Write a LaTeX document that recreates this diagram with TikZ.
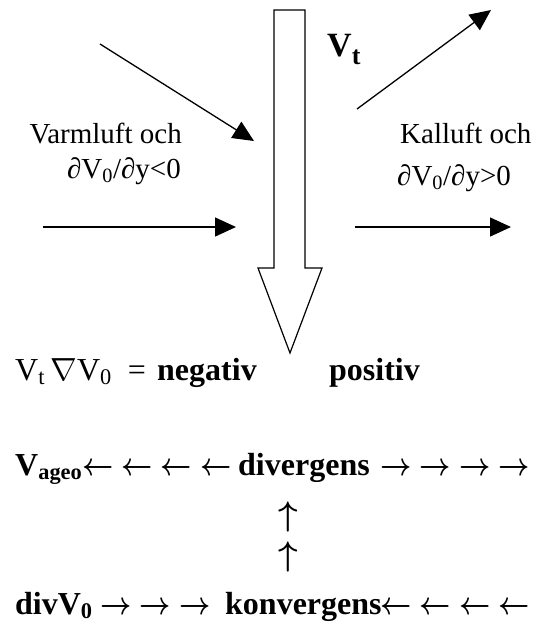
\RequirePackage{fix-cm}
\documentclass[tikz,border=0pt]{standalone}
\usepackage{fontspec}
\setmainfont{Liberation Serif}
\usetikzlibrary{arrows.meta,positioning}

\newcommand{\lar}{\scalebox{0.85}[1]{$\leftarrow$}}
\newcommand{\rar}{\scalebox{0.85}[1]{$\rightarrow$}}
\newcommand{\uar}{{\fontsize{34}{34}\selectfont$\uparrow$}}

\tikzset{
  flowarrow/.style={-{Triangle[length=21pt,width=19pt]}, line width=1.3pt},
  bigshaft/.style={draw, line width=1.2pt, fill=white},
  smalltext/.style={inner sep=0pt, font=\fontsize{29}{33}\selectfont},
  mathtext/.style={inner sep=0pt, font=\fontsize{32}{36}\selectfont},
  boldtext/.style={inner sep=0pt, font=\fontsize{32}{36}\selectfont\bfseries\boldmath},
}

\begin{document}
\begin{tikzpicture}[x=1pt, y=-1pt]
  \useasboundingbox (0,0) rectangle (538,625);

  % ── open downward arrow ──
  \draw[bigshaft] (274,10) -- (305,10) -- (305,268) -- (322,268) -- (290,353)
    -- (258,268) -- (274,268) -- cycle;
  \node[boldtext, anchor=base west] (vt) at (327,56)
    {\fontsize{34}{36}\selectfont V\raisebox{-8pt}{\fontsize{26}{26}\selectfont t}};

  % ── wind arrows ──
  \coordinate (nwin) at (100,44);
  \coordinate (nwout) at (254,141);
  \coordinate (neout) at (357,109);
  \coordinate (neend) at (491,10);
  \coordinate (win) at (43,227);
  \coordinate (wout) at (236,227);
  \coordinate (ein) at (355,227);
  \coordinate (eout) at (511,227);
  \draw[flowarrow] (nwin) -- (nwout);
  \draw[flowarrow] (neout) -- (neend);
  \draw[flowarrow] (win) -- (wout);
  \draw[flowarrow] (ein) -- (eout);

  % ── side labels ──
  \node[smalltext, anchor=base east] (warm1) at (182,143) {Varmluft och};
  \node[smalltext, anchor=base east] (warm2) at (181,178)
    {∂V\textsubscript{0}/∂y<0};
  \node[smalltext, anchor=base west] (cold1) at (400,143) {Kalluft och};
  \node[smalltext, anchor=base west] (cold2) at (397,185)
    {∂V\textsubscript{0}/∂y>0};

  % ── advection line ──
  \node[mathtext, anchor=base west] (adv) at (15,380)
    {V\textsubscript{t}\,$\nabla$V\textsubscript{0} \ = };
  \node[boldtext, anchor=base west] (neg) at (157,380) {negativ};
  \node[boldtext, anchor=base west] (pos) at (329,380) {positiv};

  % ── divergence line ──
  \node[boldtext, anchor=base west] (ageo) at (15,475)
    {V\textsubscript{ageo}\lar{} \lar{} \lar{} \lar};
  \node[boldtext, anchor=base west] (div) at (238,475) {divergens};
  \node[boldtext, anchor=base east] (divout) at (530,475) {\rar{} \rar{} \rar{} \rar};

  \node[boldtext] (up1) at (288,517) {\uar};
  \node[boldtext] (up2) at (288,557) {\uar};

  % ── convergence line ──
  \node[boldtext, anchor=base west] (divv) at (15,614)
    {divV\textsubscript{0} \rar{} \rar{} \rar};
  \node[boldtext, anchor=base west] (konv) at (225,614) {konvergens};
  \node[boldtext, anchor=base east] (konvin) at (530,614) {\lar{} \lar{} \lar{} \lar};

\end{tikzpicture}
\end{document}
